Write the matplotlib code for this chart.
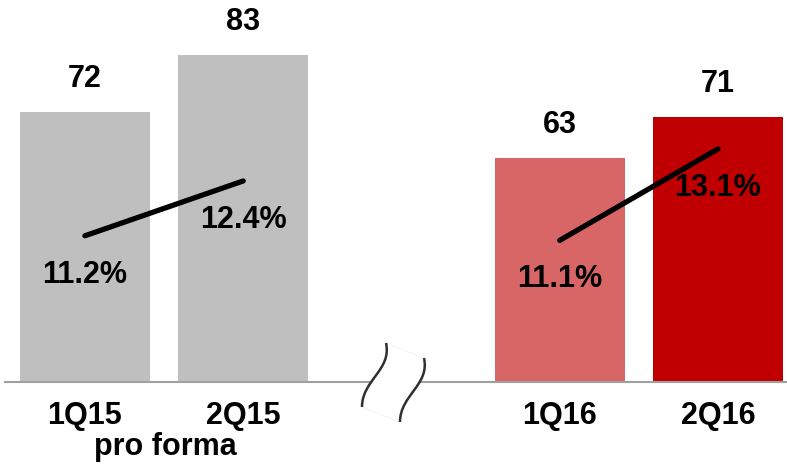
import matplotlib.pyplot as plt
from matplotlib.path import Path
from matplotlib.patches import PathPatch

plt.rcParams['font.family'] = ['Liberation Sans', 'DejaVu Sans']

quarters = ['1Q15', '2Q15', '1Q16', '2Q16']
positions = [0, 1, 3, 4]
values = [72, 83, 63, 71]
margins = [11.2, 12.4, 11.1, 13.1]
colors = ['#BFBFBF', '#BFBFBF', '#D96666', '#C00000']

W, H = 787, 465
fig = plt.figure(figsize=(W / 100, H / 100), dpi=100)
ax = fig.add_axes([5 / W, 83 / H, 782 / W, 382 / H])

# value axis starts above zero
bottom = 19.5
ax.bar(positions, [v - bottom for v in values], bottom=bottom, width=0.82,
       color=colors, zorder=2)
for x, v in zip(positions, values):
    ax.annotate(str(v), (x, v), xytext=(0, 13), textcoords='offset points',
                ha='center', va='bottom', fontsize=22, fontweight='bold')

ax.set_xlim(-0.505, 4.436)
ax.set_ylim(bottom, 93.7)
ax.set_yticks([])
ax.set_xticks(positions)
ax.set_xticklabels(quarters, fontsize=22, fontweight='bold')
ax.tick_params(axis='x', length=0, pad=14)
for side in ['left', 'right', 'top']:
    ax.spines[side].set_visible(False)
ax.spines['bottom'].set_color('#A0A0A0')
ax.spines['bottom'].set_linewidth(1.5)

# margin lines on a second scale, one segment per year
ax2 = ax.twinx()
ax2.set_ylim(8.0, 16.36)
ax2.axis('off')
for i in (0, 2):
    xs = positions[i:i + 2]
    ys = margins[i:i + 2]
    ax2.plot(xs, ys, color='black', lw=3.8, solid_capstyle='round', zorder=3)
    for x, y in zip(xs, ys):
        ax2.annotate(f'{y:.1f}%', (x, y), xytext=(0, -28), textcoords='offset points',
                     ha='center', va='center', fontsize=22, fontweight='bold')

fig.text(165 / W, 1 - 447 / H, 'pro forma', ha='center', va='center',
         fontsize=22, fontweight='bold')

# axis break marker
def fc(px, py):
    return (px / W, 1 - py / H)

dx, dy = 38, 15
c1 = [(386, 343), (392, 370), (362, 380), (362, 407)]
c2 = [(x + dx, y + dy) for x, y in c1]
verts = [fc(*p) for p in c1] + [fc(*c2[3]), fc(*c2[2]), fc(*c2[1]), fc(*c2[0]), fc(*c1[0])]
codes = [Path.MOVETO, Path.CURVE4, Path.CURVE4, Path.CURVE4, Path.LINETO,
         Path.CURVE4, Path.CURVE4, Path.CURVE4, Path.CLOSEPOLY]
fig.patches.append(PathPatch(Path(verts, codes), facecolor='white', edgecolor='#F4F4F4',
                             lw=0.8, transform=fig.transFigure, zorder=5))
for c in (c1, c2):
    p = Path([fc(*q) for q in c], [Path.MOVETO, Path.CURVE4, Path.CURVE4, Path.CURVE4])
    fig.patches.append(PathPatch(p, facecolor='none', edgecolor='#303030', lw=1.8,
                                 transform=fig.transFigure, zorder=6))

fig.savefig('out.png', dpi=100)
